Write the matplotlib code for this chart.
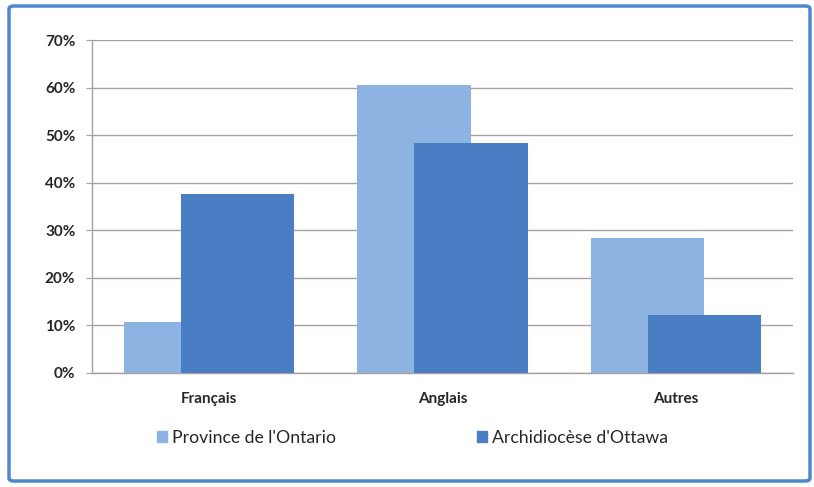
import matplotlib
matplotlib.use("Agg")
import matplotlib.pyplot as plt
from matplotlib.patches import FancyBboxPatch, Patch
import numpy as np

categories = ['Français', 'Anglais', 'Autres']
ontario = [10.7, 60.5, 28.3]
ottawa = [37.6, 48.3, 12.2]
series_names = ["Province de l'Ontario", "Archidiocèse d'Ottawa"]
yticks = [0, 10, 20, 30, 40, 50, 60, 70]

light = '#8db3e2'
dark = '#4a7ec4'
grid_col = '#a8a09c'
text_col = '#262626'

plt.rcParams['font.family'] = ['Lato', 'DejaVu Sans']

fig = plt.figure(figsize=(8.14, 4.87), dpi=100)
ax = fig.add_axes([92 / 814, 1 - 373 / 487, 701 / 814, 333 / 487])

x = np.arange(len(categories))
w = 0.484
off = 0.122
ax.bar(x - off, ontario, w, color=light, zorder=2)
ax.bar(x + off, ottawa, w, color=dark, zorder=3)

ax.set_xlim(-0.5, 2.5)
ax.set_ylim(0, 70)
ax.set_yticks(yticks)
ax.set_yticklabels([f'{v}%' for v in yticks], fontsize=11, fontweight='bold', color=text_col)
ax.set_xticks(x)
ax.set_xticklabels(categories, fontsize=11, fontweight='bold', color=text_col)
ax.tick_params(axis='x', length=0, pad=14)
ax.tick_params(axis='y', length=4, color=grid_col, pad=8)
ax.yaxis.grid(True, color=grid_col, linewidth=1.0, zorder=1)
ax.set_axisbelow(True)
for s in ['top', 'right']:
    ax.spines[s].set_visible(False)
for s in ['left', 'bottom']:
    ax.spines[s].set_color(grid_col)
    ax.spines[s].set_linewidth(1.0)

handles = [Patch(color=light), Patch(color=dark)]
fig.legend(handles, series_names, loc='center', bbox_to_anchor=(0.507, 1 - 438 / 487),
           ncol=2, frameon=False, fontsize=12.7, handlelength=0.55, handleheight=0.55,
           handletextpad=0.3, columnspacing=8.0, labelcolor=text_col)

# rounded blue frame around the chart
frame = FancyBboxPatch((9 / 814, 6 / 487), 801 / 814, 475 / 487,
                       boxstyle='round,pad=0,rounding_size=0.006',
                       transform=fig.transFigure, fill=False,
                       edgecolor='#4f86cc', linewidth=2.5)
fig.patches.append(frame)

fig.savefig('out.png', dpi=100)
